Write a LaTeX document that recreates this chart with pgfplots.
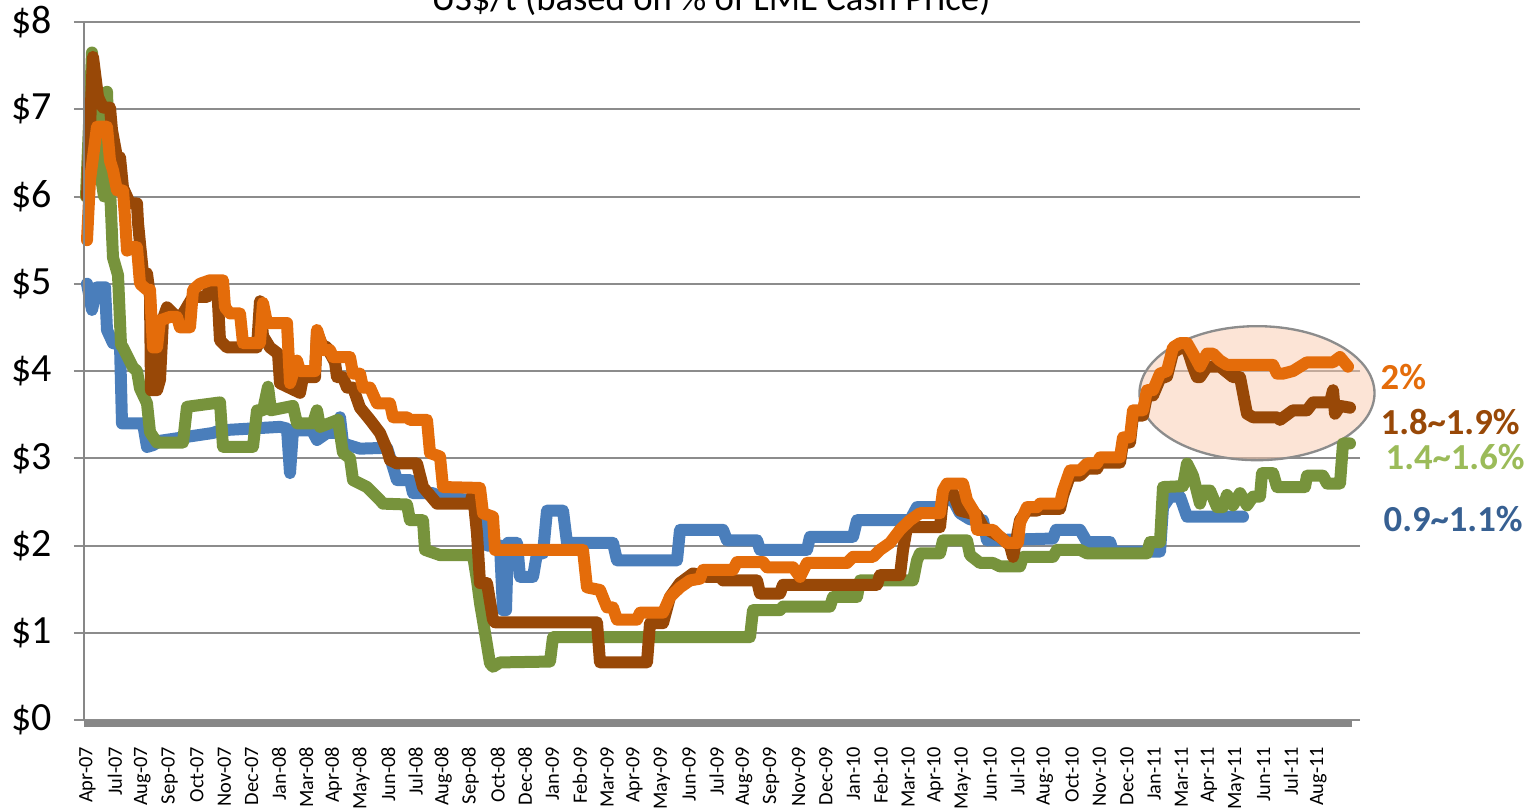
\documentclass[border=0pt]{standalone}
\usepackage{pgfplots}
\pgfplotsset{compat=1.18}
\usepackage{fontspec}
\setmainfont{Carlito}
\definecolor{cblue}{HTML}{4A7EBB}
\definecolor{cgreen}{HTML}{77933C}
\definecolor{cbrown}{HTML}{984807}
\definecolor{corange}{HTML}{E46C0A}
\definecolor{lblue}{HTML}{376092}
\definecolor{lgreen}{HTML}{9BBB59}
\definecolor{gridc}{HTML}{8C8C8C}
\definecolor{axc}{HTML}{878787}
\definecolor{peach}{HTML}{F9C9AD}
\begin{document}
\begin{tikzpicture}
\begin{axis}[
  at={(0,0)}, anchor=south west,
  scale only axis, width=379.8pt, height=209.4pt,
  xmin=84, xmax=1350, ymin=0, ymax=8,
  clip=false,
  axis line style={draw=none},
  ymajorgrids, major grid style={color=gridc, line width=0.6pt},
  ytick={0,1,2,3,4,5,6,7,8},
  yticklabels={\$0,\$1,\$2,\$3,\$4,\$5,\$6,\$7,\$8},
  tick align=outside, major tick length=3pt,
  ytick style={color=gridc, line width=0.6pt},
  xtick style={draw=none},
  yticklabel style={font=\fontsize{12}{12}\selectfont, xshift=-3pt},
  xtick={87.5,114.85,...,1325},
  xticklabels={Apr-07,Jul-07,Aug-07,Sep-07,Oct-07,Nov-07,Dec-07,Jan-08,Mar-08,Apr-08,May-08,Jun-08,Jul-08,Aug-08,Sep-08,Oct-08,Dec-08,Jan-09,Feb-09,Mar-09,Apr-09,May-09,Jun-09,Jul-09,Aug-09,Sep-09,Nov-09,Dec-09,Jan-10,Feb-10,Mar-10,Apr-10,May-10,Jun-10,Jul-10,Aug-10,Oct-10,Nov-10,Dec-10,Jan-11,Mar-11,Apr-11,May-11,Jun-11,Jul-11,Aug-11},
  xticklabel style={rotate=90, anchor=east, font=\fontsize{6.1}{6.1}\selectfont, xshift=-1.6pt},
  every axis plot/.append style={no markers, line width=3.6pt, line join=round, line cap=round},
]
\draw[draw=gridc, line width=0.7pt, fill=peach, fill opacity=0.5] (axis cs:1257,3.746) ellipse [x radius=35.25pt, y radius=20.1pt];
% 0.9~1.1%
\addplot[color=cblue] coordinates {
(87,5.0)(92,4.7)(97,4.96)(105,4.96)(107,4.47)(113,4.32)(120,4.3)(122,3.4)(143,3.4)(147,3.13)(153,3.15)(160,3.2)(213,3.29)(220,3.32)(280,3.36)(287,3.34)(290,2.83)(293,3.32)(312,3.32)(317,3.21)(327,3.29)(337,3.29)(340,3.47)(343,3.17)(360,3.11)(387,3.12)(393,2.9)(397,2.75)(410,2.75)(413,2.6)(433,2.6)(440,2.55)(475,2.52)(483,2.3)(487,2.0)(500,2.0)(503,1.26)(506,1.26)(508,2.03)(517,2.03)(520,1.64)(533,1.64)(537,1.91)(543,1.91)(547,2.4)(563,2.4)(567,2.03)(613,2.03)(617,1.83)(677,1.83)(680,2.18)(723,2.18)(727,2.06)(757,2.06)(760,1.95)(807,1.95)(810,2.10)(853,2.10)(857,2.29)(910,2.29)(917,2.44)(940,2.44)(943,2.52)(953,2.52)(960,2.37)(970,2.3)(983,2.29)(987,2.06)(1053,2.08)(1056,2.18)(1080,2.18)(1087,2.04)(1110,2.04)(1113,1.93)(1160,1.93)(1163,2.44)(1170,2.56)(1180,2.56)(1187,2.33)(1243,2.33)
};
% 1.4~1.6%
\addplot[color=cgreen] coordinates {
(86,6.0)(92,7.65)(97,6.6)(100,6.3)(104,6.0)(107,7.2)(110,6.1)(113,5.3)(118,5.1)(121,4.3)(123,4.27)(133,4.04)(137,4.0)(140,3.8)(147,3.63)(150,3.3)(157,3.18)(183,3.18)(187,3.59)(220,3.64)(223,3.13)(253,3.13)(257,3.55)(263,3.55)(268,3.82)(271,3.55)(293,3.6)(297,3.4)(313,3.4)(317,3.55)(320,3.36)(338,3.44)(343,3.06)(350,3.0)(353,2.75)(367,2.67)(380,2.52)(383,2.48)(407,2.47)(410,2.29)(423,2.29)(425,1.95)(440,1.89)(473,1.89)(477,1.6)(480,1.34)(485,1.0)(490,0.65)(493,0.61)(500,0.66)(550,0.67)(553,0.95)(750,0.95)(753,1.26)(780,1.26)(783,1.30)(830,1.30)(833,1.41)(857,1.41)(860,1.60)(913,1.60)(917,1.83)(920,1.91)(940,1.91)(943,2.06)(967,2.06)(970,1.89)(980,1.8)(993,1.8)(1000,1.76)(1020,1.76)(1023,1.87)(1053,1.87)(1057,1.95)(1080,1.95)(1087,1.91)(1147,1.91)(1150,2.04)(1160,2.04)(1163,2.67)(1183,2.68)(1187,2.94)(1193,2.8)(1200,2.48)(1203,2.63)(1210,2.63)(1217,2.44)(1223,2.44)(1227,2.58)(1233,2.46)(1240,2.6)(1247,2.46)(1253,2.56)(1260,2.56)(1262,2.83)(1273,2.83)(1277,2.67)(1305,2.67)(1307,2.8)(1323,2.8)(1327,2.71)(1340,2.71)(1343,3.17)(1350,3.17)
};
% 1.8~1.9%
\addplot[color=cbrown] coordinates {
(87,6.0)(93,7.6)(98,7.14)(103,7.02)(110,7.02)(112,6.76)(117,6.45)(120,6.45)(123,6.1)(130,5.92)(137,5.92)(138,5.7)(140,5.46)(143,5.12)(147,5.12)(150,4.85)(151,3.78)(157,3.78)(160,3.9)(163,4.6)(167,4.73)(173,4.66)(180,4.6)(193,4.85)(207,4.85)(210,5.0)(217,5.0)(220,4.35)(227,4.27)(257,4.27)(260,4.8)(263,4.4)(270,4.27)(278,4.2)(280,3.86)(300,3.75)(303,3.93)(315,3.93)(317,4.45)(322,4.3)(327,4.27)(335,4.1)(337,3.93)(343,3.93)(347,3.81)(353,3.81)(360,3.58)(370,3.44)(380,3.29)(387,3.1)(390,2.98)(397,2.94)(417,2.94)(423,2.67)(437,2.48)(470,2.48)(473,2.6)(477,2.14)(480,1.57)(487,1.57)(493,1.15)(495,1.12)(597,1.12)(600,0.66)(647,0.66)(650,1.11)(663,1.11)(670,1.41)(680,1.57)(693,1.68)(707,1.64)(720,1.64)(723,1.60)(757,1.60)(760,1.45)(780,1.45)(783,1.55)(877,1.55)(880,1.66)(900,1.66)(903,1.95)(907,2.21)(940,2.21)(943,2.56)(953,2.6)(960,2.4)(977,2.35)(983,2.21)(1000,2.1)(1010,2.0)(1013,1.87)(1020,2.29)(1027,2.40)(1037,2.40)(1040,2.42)(1060,2.42)(1063,2.57)(1070,2.80)(1080,2.80)(1087,2.88)(1097,2.88)(1100,2.95)(1120,2.95)(1123,3.18)(1130,3.18)(1133,3.49)(1143,3.49)(1147,3.72)(1153,3.72)(1160,3.91)(1167,3.94)(1173,4.21)(1180,4.26)(1187,4.26)(1193,4.05)(1197,3.93)(1200,3.93)(1207,4.05)(1220,4.05)(1233,3.93)(1240,3.93)(1247,3.51)(1253,3.47)(1277,3.47)(1280,3.44)(1293,3.55)(1307,3.55)(1313,3.64)(1330,3.64)(1333,3.78)(1335,3.51)(1340,3.6)(1350,3.58)
};
% 2%
\addplot[color=corange] coordinates {
(87,5.5)(90,6.19)(93,6.45)(97,6.8)(107,6.8)(110,6.41)(113,6.3)(117,6.07)(123,6.07)(125,5.76)(127,5.38)(133,5.42)(137,5.42)(140,5.0)(147,4.93)(150,4.93)(153,4.27)(157,4.27)(160,4.58)(170,4.62)(177,4.62)(180,4.5)(190,4.5)(193,4.93)(200,5.0)(210,5.04)(223,5.04)(225,4.73)(230,4.66)(240,4.66)(243,4.32)(260,4.32)(263,4.78)(267,4.55)(287,4.55)(290,3.86)(297,4.12)(300,4.0)(315,4.0)(317,4.47)(323,4.24)(330,4.24)(333,4.16)(350,4.16)(353,3.97)(360,3.97)(363,3.81)(370,3.81)(377,3.63)(390,3.63)(393,3.47)(407,3.47)(410,3.44)(427,3.44)(430,3.06)(440,3.02)(443,2.67)(480,2.66)(483,2.37)(493,2.33)(495,1.95)(583,1.95)(587,1.52)(600,1.49)(607,1.29)(613,1.29)(617,1.15)(637,1.15)(640,1.23)(663,1.23)(670,1.41)(680,1.52)(690,1.60)(700,1.62)(703,1.72)(733,1.72)(737,1.81)(763,1.81)(767,1.75)(793,1.75)(800,1.64)(807,1.80)(847,1.80)(853,1.87)(873,1.87)(880,1.95)(890,2.03)(900,2.18)(910,2.29)(920,2.37)(940,2.37)(943,2.63)(947,2.71)(963,2.71)(967,2.52)(975,2.37)(977,2.18)(993,2.18)(1000,2.10)(1007,2.03)(1018,2.03)(1020,2.26)(1027,2.44)(1037,2.44)(1040,2.48)(1060,2.48)(1063,2.63)(1070,2.86)(1080,2.86)(1087,2.94)(1097,2.94)(1100,3.01)(1120,3.01)(1123,3.24)(1130,3.24)(1133,3.55)(1143,3.55)(1147,3.78)(1153,3.78)(1160,3.97)(1167,4.0)(1173,4.27)(1180,4.32)(1187,4.32)(1193,4.2)(1200,4.05)(1207,4.2)(1213,4.2)(1220,4.12)(1227,4.07)(1273,4.07)(1277,3.97)(1283,3.97)(1293,4.0)(1307,4.10)(1333,4.10)(1340,4.16)(1348,4.05)
};
\draw[draw=axc, line width=0.6pt] (axis cs:84,0) -- (axis cs:84,8);
\draw[draw=axc, line width=2.1pt, yshift=-1pt] (axis cs:84,0) -- (axis cs:1352,0);
\node[anchor=west, font=\fontsize{11}{11}\selectfont\bfseries, text=corange, inner sep=0pt] at (axis cs:1380,3.93) {2\%};
\node[anchor=west, font=\fontsize{11}{11}\selectfont\bfseries, text=cbrown, inner sep=0pt] at (axis cs:1380,3.42) {1.8\textasciitilde1.9\%};
\node[anchor=west, font=\fontsize{11}{11}\selectfont\bfseries, text=lgreen, inner sep=0pt] at (axis cs:1385,3.01) {1.4\textasciitilde1.6\%};
\node[anchor=west, font=\fontsize{11}{11}\selectfont\bfseries, text=lblue, inner sep=0pt] at (axis cs:1383,2.30) {0.9\textasciitilde1.1\%};
\end{axis}
\node[anchor=base, font=\fontsize{11}{11}\selectfont] at (188.1pt,213.0pt) {US\$/t (based on \% of LME Cash Price)};
\pgfresetboundingbox
\path[use as bounding box] (-25.2pt,-26.1pt) rectangle (435.3pt,216pt);
\end{tikzpicture}
\end{document}
